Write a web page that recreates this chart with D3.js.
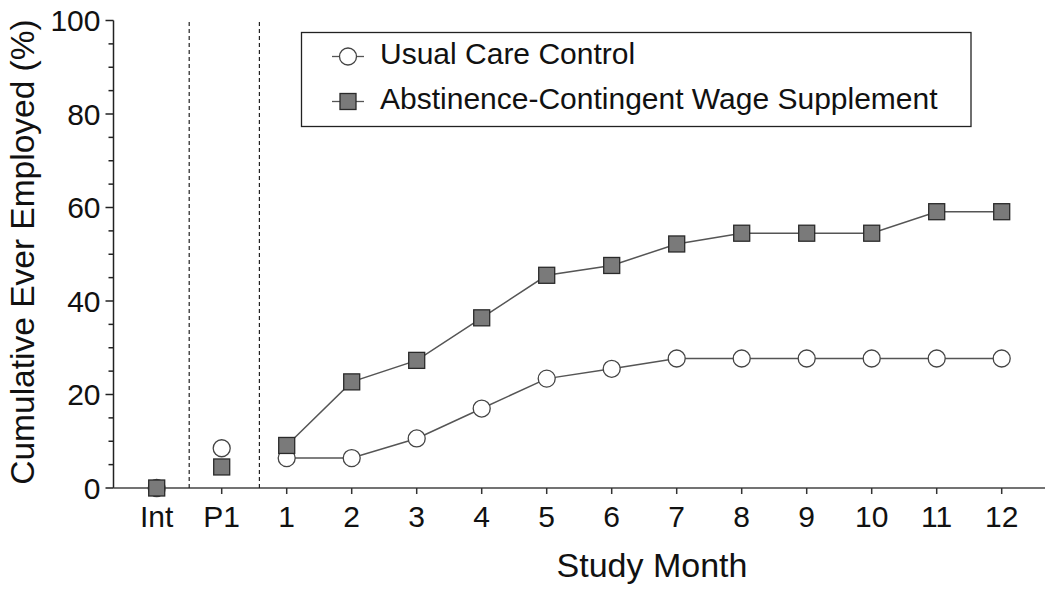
<!DOCTYPE html>
<html><head><meta charset="utf-8">
<script src="https://cdn.jsdelivr.net/npm/d3@7"></script>
<style>body{margin:0;background:#fff}svg{display:block;font-family:"Liberation Sans",Arial,sans-serif}</style>
</head><body><svg id="c" width="1050" height="593"></svg>
<script>
const categories = ["Int","P1","1","2","3","4","5","6","7","8","9","10","11","12"];
const controlValues = [0, 8.5, 6.4, 6.4, 10.6, 17.0, 23.4, 25.5, 27.7, 27.7, 27.7, 27.7, 27.7, 27.7];
const wageValues = [0, 4.5, 9.1, 22.7, 27.3, 36.4, 45.5, 47.6, 52.2, 54.5, 54.5, 54.5, 59.1, 59.1];
const yTicks = [0, 20, 40, 60, 80, 100];
const phaseDividers = [0.5, 1.58];
const seriesNames = ["Usual Care Control", "Abstinence-Contingent Wage Supplement"];

const svg = d3.select("#c");
const x = d3.scaleLinear().domain([0, 13]).range([156.7, 1001.7]);
const y = d3.scaleLinear().domain([0, 100]).range([488, 20.5]);
const axisLeftX = 113.5;

// Y axis
const gy = svg.append("g").attr("transform", `translate(${axisLeftX},0)`);
gy.append("line").attr("y1", y(0)).attr("y2", y(100)).attr("stroke", "#222").attr("stroke-width", 1.5);
d3.range(0, 101, 5).forEach(v => {
  const major = v % 20 === 0;
  gy.append("line").attr("x1", major ? -8 : -5).attr("x2", 0)
    .attr("y1", y(v)).attr("y2", y(v)).attr("stroke", "#222").attr("stroke-width", 1.5);
});
yTicks.forEach(v => {
  gy.append("text").attr("x", -13).attr("y", y(v)).attr("dy", "0.36em")
    .attr("text-anchor", "end").attr("font-size", 30).attr("fill", "#111").text(v);
});

// X axis
const gx = svg.append("g");
gx.append("line").attr("x1", axisLeftX).attr("x2", 1045).attr("y1", y(0)).attr("y2", y(0))
  .attr("stroke", "#444").attr("stroke-width", 1.5);
categories.forEach((c, i) => {
  gx.append("line").attr("x1", x(i)).attr("x2", x(i)).attr("y1", y(0)).attr("y2", y(0) + 6)
    .attr("stroke", "#333").attr("stroke-width", 1.5);
  gx.append("text").attr("x", x(i)).attr("y", 527).attr("text-anchor", "middle")
    .attr("font-size", 30).attr("fill", "#111").text(c);
});

// Phase dividers
phaseDividers.forEach(v => {
  svg.append("line").attr("x1", x(v)).attr("x2", x(v)).attr("y1", y(0)).attr("y2", y(100))
    .attr("stroke", "#222").attr("stroke-width", 1.2).attr("stroke-dasharray", "4,3");
});

// Titles
svg.append("text").attr("x", 652).attr("y", 577).attr("text-anchor", "middle")
  .attr("font-size", 34).attr("fill", "#111").text("Study Month");
svg.append("text").attr("transform", "translate(34,252) rotate(-90)").attr("text-anchor", "middle")
  .attr("font-size", 33.5).attr("fill", "#111").text("Cumulative Ever Employed (%)");

// Lines (from month 1 onward)
const line = d3.line().x(d => x(d[0])).y(d => y(d[1]));
const seg = arr => arr.map((v, i) => [i, v]).slice(2);
svg.append("path").attr("d", line(seg(controlValues))).attr("fill", "none").attr("stroke", "#555").attr("stroke-width", 1.5);
svg.append("path").attr("d", line(seg(wageValues))).attr("fill", "none").attr("stroke", "#555").attr("stroke-width", 1.5);

// Markers
svg.append("g").selectAll("circle").data(controlValues).join("circle")
  .attr("cx", (d, i) => x(i)).attr("cy", d => y(d)).attr("r", 8.5)
  .attr("fill", "#fff").attr("stroke", "#444").attr("stroke-width", 1.3);
const s = 16;
svg.append("g").selectAll("rect").data(wageValues).join("rect")
  .attr("x", (d, i) => x(i) - s / 2).attr("y", d => y(d) - s / 2).attr("width", s).attr("height", s)
  .attr("fill", "#7a7a7a").attr("stroke", "#2a2a2a").attr("stroke-width", 1.3);

// Legend
const lg = svg.append("g");
lg.append("rect").attr("x", 301.5).attr("y", 32.5).attr("width", 669.5).attr("height", 94)
  .attr("fill", "#fff").attr("stroke", "#222").attr("stroke-width", 1.3);
const ly = [56.5, 101.5];
ly.forEach((yy, k) => {
  lg.append("line").attr("x1", 332).attr("x2", 364).attr("y1", yy).attr("y2", yy).attr("stroke", "#555").attr("stroke-width", 1.3);
  if (k === 0) {
    lg.append("circle").attr("cx", 348).attr("cy", yy).attr("r", 8.5).attr("fill", "#fff").attr("stroke", "#444").attr("stroke-width", 1.3);
  } else {
    lg.append("rect").attr("x", 340).attr("y", yy - 8).attr("width", 16).attr("height", 16).attr("fill", "#7a7a7a").attr("stroke", "#2a2a2a").attr("stroke-width", 1.3);
  }
  lg.append("text").attr("x", 380).attr("y", yy + 7.5).attr("font-size", 30).attr("fill", "#111").text(seriesNames[k]);
});
</script></body></html>
